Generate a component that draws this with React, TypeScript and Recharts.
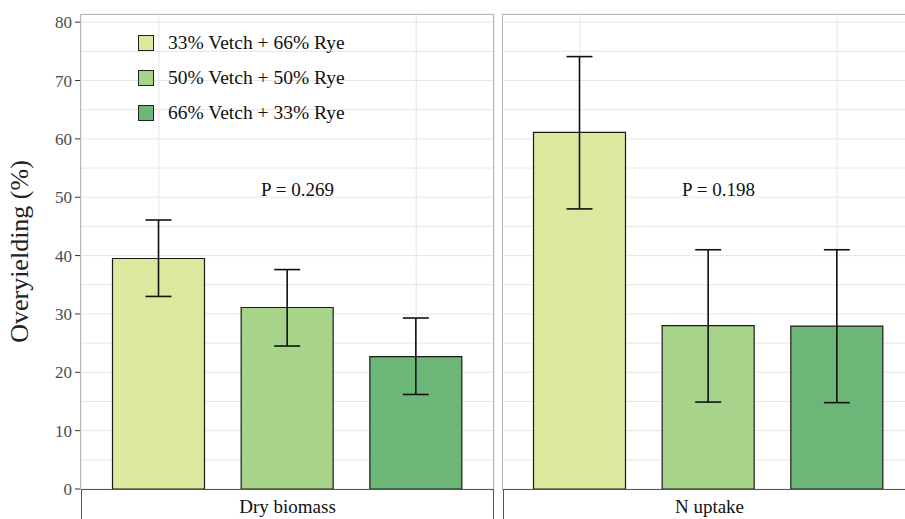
import { BarChart, Bar, XAxis, YAxis, CartesianGrid, ErrorBar, Cell, ReferenceDot } from 'recharts';

const mixtures = ['33% Vetch + 66% Rye', '50% Vetch + 50% Rye', '66% Vetch + 33% Rye'];
const colors = ['#dce89d', '#a8d38a', '#6cb677'];

const biomassMean = [39.5, 31.1, 22.7];
const biomassLow = [33.0, 24.5, 16.2];
const biomassHigh = [46.1, 37.6, 29.3];

const uptakeMean = [61.1, 28.0, 27.9];
const uptakeLow = [48.0, 14.9, 14.8];
const uptakeHigh = [74.1, 41.0, 41.0];

const yTicks = [0, 5, 10, 15, 20, 25, 30, 35, 40, 45, 50, 55, 60, 65, 70, 75, 80];
const pValues = ['P = 0.269', 'P = 0.198'];
const facets = ['Dry biomass', 'N uptake'];

const FONT = '"Liberation Serif", "DejaVu Serif", serif';

function buildRows(mean: number[], low: number[], high: number[]) {
  return mixtures.map((m, i) => ({
    name: m,
    value: mean[i],
    err: [mean[i] - low[i], high[i] - mean[i]],
  }));
}

const biomassRows = buildRows(biomassMean, biomassLow, biomassHigh);
const uptakeRows = buildRows(uptakeMean, uptakeLow, uptakeHigh);

function YTick(props: any) {
  const { x, y, payload } = props;
  if (payload.value % 10 !== 0) return null;
  return (
    <g>
      <line x1={x + 2} x2={x + 8} y1={y} y2={y} stroke="#333" strokeWidth={1} />
      <text x={x - 1} y={y} dy={6} textAnchor="end" fontSize={17} fill="#4d4d4d" fontFamily={FONT}>
        {payload.value}
      </text>
    </g>
  );
}

function PLabel(text: string) {
  return (props: any) => {
    const { viewBox } = props;
    if (!viewBox) return null;
    const cx = viewBox.x + (viewBox.width || 0) / 2;
    const cy = viewBox.y + (viewBox.height || 0) / 2;
    return (
      <text x={cx + 10} y={cy + 6} textAnchor="middle" fontSize={19} fill="#111" fontFamily={FONT}>
        {text}
      </text>
    );
  };
}

function Panel({ rows, pText, showY }: { rows: any[]; pText: string; showY: boolean }) {
  return (
    <BarChart
      width={showY ? 495 : 414}
      height={519}
      data={rows}
      margin={{ top: 14, right: 1, left: 0, bottom: 30 }}
      style={{ fontFamily: FONT }}
    >
      <CartesianGrid stroke="#e6e6e6" strokeWidth={1} />
      <XAxis dataKey="name" hide padding={{ left: 13.5, right: 13.5 }} />
      <YAxis
        hide={!showY}
        width={81}
        domain={[0, 81.4]}
        ticks={yTicks}
        interval={0}
        axisLine={false}
        tickLine={false}
        tick={<YTick />}
        label={{
          value: 'Overyielding (%)',
          content: (p: any) => (
            <text
              transform={`translate(22, ${p.viewBox.y + p.viewBox.height / 2}) rotate(-90)`}
              textAnchor="middle"
              dominantBaseline="middle"
              fontSize={26}
              fill="#222"
              fontFamily={FONT}
            >
              Overyielding (%)
            </text>
          ),
        }}
      />
      <Bar dataKey="value" barSize={92} stroke="#1a1a1a" strokeWidth={1.2} isAnimationActive={false}>
        {rows.map((r, i) => (
          <Cell key={r.name} fill={colors[i]} />
        ))}
        <ErrorBar dataKey="err" width={13} stroke="#111" strokeWidth={1.6} isAnimationActive={false} />
      </Bar>
      <ReferenceDot
        x={mixtures[1]}
        y={51.2}
        r={1}
        stroke="none"
        fill="none"
        ifOverflow="visible"
        label={PLabel(pText) as any}
      />
    </BarChart>
  );
}

function Legend() {
  return (
    <div style={{ position: 'absolute', left: 138, top: 25, fontFamily: FONT, fontSize: 19.5, color: '#111' }}>
      {mixtures.map((m, i) => (
        <div key={m} style={{ display: 'flex', alignItems: 'center', height: 35 }}>
          <span
            style={{
              width: 14,
              height: 14,
              background: colors[i],
              border: '1.5px solid #222',
              marginRight: 14,
              display: 'inline-block',
            }}
          />
          <span>{m}</span>
        </div>
      ))}
    </div>
  );
}

function Strip({ left, text }: { left: number; text: string }) {
  return (
    <div
      style={{
        position: 'absolute',
        left,
        top: 489,
        width: 413,
        height: 40,
        border: '1px solid #555',
        boxSizing: 'border-box',
        background: '#fff',
        fontFamily: FONT,
        fontSize: 19,
        color: '#111',
        textAlign: 'center',
        lineHeight: '34px',
      }}
    >
      {text}
    </div>
  );
}

function Frame({ left }: { left: number }) {
  return (
    <div
      style={{
        position: 'absolute',
        left,
        top: 14,
        width: 414,
        height: 476,
        border: '1px solid #b5b5b5',
        boxSizing: 'border-box',
        pointerEvents: 'none',
      }}
    />
  );
}

export default function App() {
  return (
    <div
      style={{
        position: 'absolute',
        left: 0,
        top: 0,
        width: 905,
        height: 519,
        overflow: 'hidden',
        background: '#fff',
      }}
    >
      <div style={{ position: 'absolute', left: 0, top: 0 }}>
        <Panel rows={biomassRows} pText={pValues[0]} showY={true} />
      </div>
      <div style={{ position: 'absolute', left: 502, top: 0 }}>
        <Panel rows={uptakeRows} pText={pValues[1]} showY={false} />
      </div>
      <Frame left={80} />
      <Frame left={502} />
      <Strip left={81} text={facets[0]} />
      <Strip left={503} text={facets[1]} />
      <Legend />
    </div>
  );
}
